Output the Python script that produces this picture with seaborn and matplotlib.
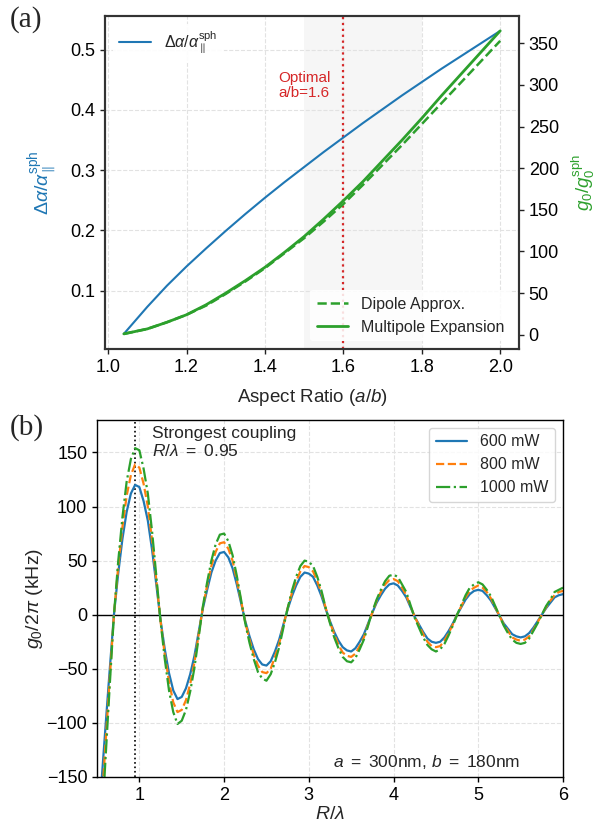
import numpy as np
import pandas as pd
import matplotlib
matplotlib.use("Agg")
import matplotlib.pyplot as plt
import seaborn as sns

# ---------------- panel (a): spheroid aspect ratio ----------------
aspect_ratio = [1.04, 1.10, 1.15, 1.20, 1.25, 1.30, 1.35, 1.40, 1.45, 1.50,
                1.55, 1.60, 1.65, 1.70, 1.75, 1.80, 1.85, 1.90, 1.95, 2.00]
delta_alpha = [0.028, 0.073, 0.108, 0.140, 0.170, 0.199, 0.227, 0.254, 0.280, 0.305,
               0.330, 0.354, 0.378, 0.401, 0.424, 0.446, 0.468, 0.489, 0.510, 0.531]
g0_dipole = [1, 7, 15, 24, 35, 49, 64, 80, 98, 116,
             136, 157, 180, 204, 228, 253, 278, 303, 328, 353]
g0_multipole = [1, 7, 15, 24, 36, 50, 65, 81, 99, 118,
                139, 161, 184, 209, 234, 260, 287, 313, 339, 365]
optimal_ratio = 1.6
optimal_band = (1.5, 1.8)

# ---------------- panel (b): coupling vs. separation ----------------
r_over_lambda = np.round(np.arange(0.55, 6.0001, 0.05), 2)
g0_600 = [-158, -104, -51, 0, 38, 70, 95, 112, 120, 118,
          105, 87, 60, 28, -5, -32, -54, -70, -78, -76,
          -68, -55, -38, -16, 6, 23, 39, 50, 57, 58,
          53, 43, 28, 11, -6, -20, -32, -41, -46, -47,
          -43, -34, -23, -9, 5, 17, 27, 35, 39, 38,
          35, 27, 17, 5, -6, -16, -24, -30, -33, -34,
          -31, -25, -18, -8, 2, 11, 18, 24, 28, 29,
          27, 22, 16, 7, -2, -9, -16, -22, -25, -26,
          -25, -21, -15, -8, 0, 7, 14, 19, 22, 23,
          22, 18, 13, 6, -1, -8, -13, -18, -20, -21,
          -20, -17, -12, -6, 0, 6, 11, 16, 18, 19]
g0_800 = [-182, -120, -59, 0, 44, 81, 110, 129, 139, 136,
          121, 100, 69, 32, -6, -37, -62, -81, -90, -88,
          -79, -64, -44, -18, 7, 27, 45, 58, 66, 67,
          61, 50, 32, 13, -7, -23, -37, -47, -53, -54,
          -50, -39, -27, -10, 6, 20, 31, 40, 45, 44,
          40, 31, 20, 6, -7, -18, -28, -35, -38, -39,
          -36, -29, -21, -9, 2, 13, 21, 28, 32, 33,
          31, 25, 18, 8, -2, -10, -18, -25, -29, -30,
          -29, -24, -17, -9, 0, 8, 16, 22, 25, 27,
          25, 21, 15, 7, -1, -9, -15, -21, -23, -24,
          -23, -20, -14, -7, 0, 7, 13, 18, 21, 22]
g0_1000 = [-204, -134, -66, 0, 49, 90, 123, 144, 154, 152,
           135, 112, 77, 36, -6, -41, -70, -90, -101, -98,
           -88, -71, -49, -21, 8, 30, 50, 65, 74, 75,
           68, 55, 36, 14, -8, -26, -41, -53, -59, -61,
           -55, -44, -30, -12, 6, 22, 35, 45, 50, 49,
           45, 35, 22, 6, -8, -21, -31, -39, -43, -44,
           -40, -32, -23, -10, 3, 14, 23, 31, 36, 37,
           35, 28, 21, 9, -3, -12, -21, -28, -32, -34,
           -32, -27, -19, -10, 0, 9, 18, 25, 28, 30,
           28, 23, 17, 8, -1, -10, -17, -23, -26, -27,
           -26, -22, -15, -8, 0, 8, 14, 21, 23, 25]
power_labels = ["600 mW", "800 mW", "1000 mW"]
strongest_r = 0.95

BLUE, ORANGE, GREEN, RED = "#1f77b4", "#ff7f0e", "#2ca02c", "#d62728"

sns.set_theme(style="ticks")
plt.rcParams["font.family"] = ["Liberation Sans", "DejaVu Sans"]
plt.rcParams["mathtext.fontset"] = "custom"
plt.rcParams["mathtext.rm"] = "Liberation Sans"
plt.rcParams["mathtext.it"] = "Liberation Sans:italic"
plt.rcParams["mathtext.bf"] = "Liberation Sans:bold"
plt.rcParams["mathtext.sf"] = "Liberation Sans"

fig = plt.figure(figsize=(5.98, 8.23), dpi=100)
ax1 = fig.add_axes([0.1756, 0.5759, 0.6923, 0.4050])
ax2 = fig.add_axes([0.1622, 0.0559, 0.7793, 0.4338])

grid_kw = dict(ls="--", lw=0.8, color="#e2e2e2")

# ---- (a) ----
ax1.axvspan(*optimal_band, color="0.5", alpha=0.07, lw=0, zorder=0)
ax1.axvline(optimal_ratio, color=RED, ls=":", lw=1.6, zorder=1)
sns.lineplot(x=aspect_ratio, y=delta_alpha, ax=ax1, color=BLUE, lw=1.5,
             label=r"$\Delta\alpha/\alpha_{\parallel}^{\mathrm{sph}}$")
ax1.text(1.5, 0.44, "Optimal\na/b=1.6", color=RED, ha="center", va="center",
         fontsize=11, linespacing=1.1)
ax1.set_xticks([1.0, 1.2, 1.4, 1.6, 1.8, 2.0])
ax1.set_yticks([0.1, 0.2, 0.3, 0.4, 0.5])
ax1.grid(True, **grid_kw)
ax1.set_xlabel("Aspect Ratio ($a/b$)", fontsize=13.5, labelpad=8)
ax1.set_ylabel(r"$\Delta\alpha/\alpha_{\parallel}^{\mathrm{sph}}$", color=BLUE, fontsize=14)
ax1.yaxis.set_label_coords(-0.108, 0.5)
ax1.legend(loc="upper left", fontsize=11.5, frameon=True, edgecolor="none",
           framealpha=0.9, handlelength=2.0)

ax1b = ax1.twinx()
sns.lineplot(x=aspect_ratio, y=g0_dipole, ax=ax1b, color=GREEN, lw=1.8, ls="--",
             label="Dipole Approx.")
sns.lineplot(x=aspect_ratio, y=g0_multipole, ax=ax1b, color=GREEN, lw=2.0,
             label="Multipole Expansion")
ax1b.set_yticks(range(0, 351, 50))
ax1b.set_ylabel(r"$g_0/g_0^{\mathrm{sph}}$", color=GREEN, fontsize=13.5)
ax1b.yaxis.set_label_coords(1.122, 0.5)
ax1b.legend(loc="lower right", fontsize=11.5, frameon=True, edgecolor="none",
            framealpha=0.85, handlelength=2.0)

for a in (ax1, ax1b):
    a.tick_params(labelsize=13, length=3.5, width=1.0, colors="#222222",
                  labelcolor="black")
    for s in a.spines.values():
        s.set_color("#333333")
        s.set_linewidth(1.5)

# ---- (b) ----
ax2.axhline(0, color="black", lw=1.0, zorder=1)
ax2.axvline(strongest_r, color="black", ls=":", lw=1.2, zorder=1)
styles = [("-", BLUE, g0_600), ("--", ORANGE, g0_800), ("-.", GREEN, g0_1000)]
for label, (ls, col, vals) in zip(power_labels, styles):
    sns.lineplot(x=r_over_lambda, y=vals, ax=ax2, color=col, ls=ls, lw=1.6,
                 label=label)
ax2.set_xlim(0.5, 6.0)
ax2.set_ylim(-150, 180)
ax2.set_xticks([1, 2, 3, 4, 5, 6])
ax2.set_yticks([-150, -100, -50, 0, 50, 100, 150])
ax2.grid(True, **grid_kw)
ax2.text(1.15, 174, "Strongest coupling\n" + r"$R/\lambda\ =\ 0.95$", va="top",
         ha="left", fontsize=12.5, linespacing=1.15)
ax2.text(5.5, -136, r"$a\ =\ 300$nm, $b\ =\ 180$nm", ha="right", va="center",
         fontsize=12.5)
ax2.set_xlabel(r"$R/\lambda$", fontsize=14, labelpad=2)
ax2.set_ylabel(r"$g_0/2\pi$ (kHz)", fontsize=14)
ax2.yaxis.set_label_coords(-0.112, 0.5)
ax2.legend(loc="upper right", fontsize=11.5, handlelength=2.0)
ax2.tick_params(labelsize=13, length=3.5, width=1.0, colors="black")
for s in ax2.spines.values():
    s.set_color("black")
    s.set_linewidth(1.0)

fig.text(10 / 598, 1 - 6 / 823, "(a)", va="top", ha="left",
         family="Liberation Serif", fontsize=21)
fig.text(10 / 598, 1 - 414 / 823, "(b)", va="top", ha="left",
         family="Liberation Serif", fontsize=21)

fig.savefig("out.png", dpi=100)
